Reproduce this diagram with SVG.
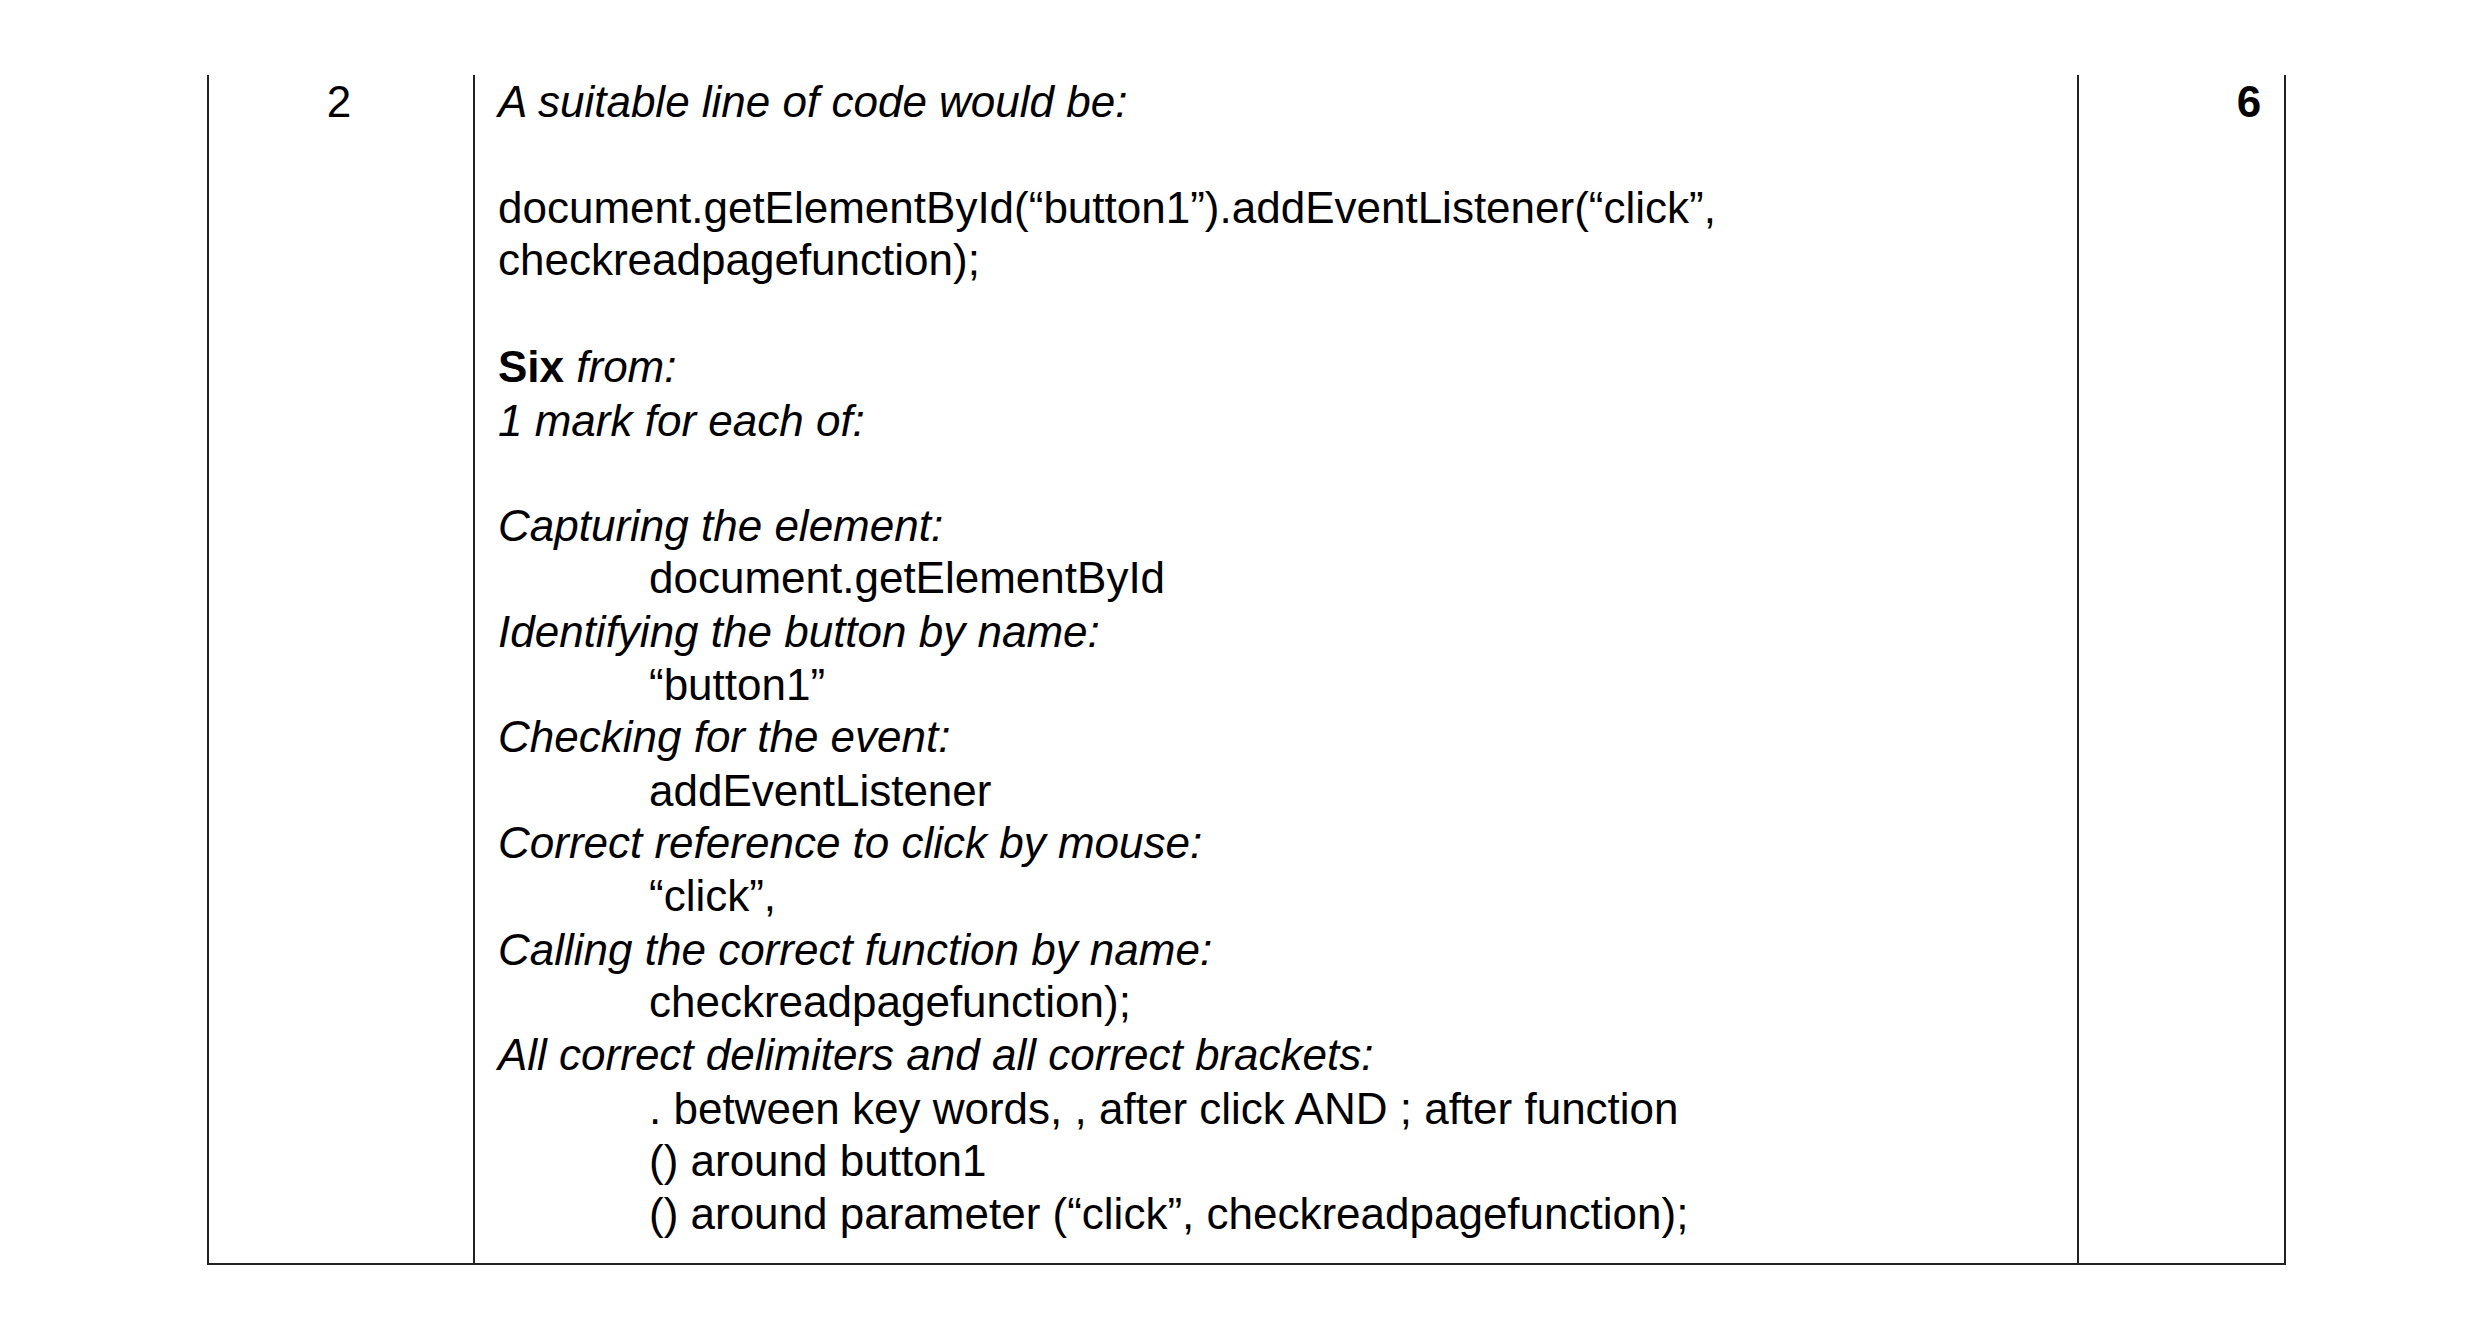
<svg xmlns="http://www.w3.org/2000/svg" width="2480" height="1335" viewBox="0 0 2480 1335">
<style>
text{font-family:"Liberation Sans",Arial,sans-serif;font-size:44px;fill:#000}
.i{font-style:italic}
.b{font-weight:bold}
line{stroke:#222;stroke-width:2}
</style>
<rect width="2480" height="1335" fill="#fff"/>
<g id="grid">
<line x1="208" y1="75" x2="208" y2="1265"/>
<line x1="474" y1="75" x2="474" y2="1265"/>
<line x1="2078" y1="75" x2="2078" y2="1265"/>
<line x1="2285" y1="75" x2="2285" y2="1265"/>
<line x1="207" y1="1264" x2="2286" y2="1264"/>
</g>
<g id="number"><text x="339" y="117" text-anchor="middle">2</text></g>
<g id="marks"><text x="2249" y="117" text-anchor="middle" class="b">6</text></g>
<g id="answer">
<text x="498" y="117" class="i">A suitable line of code would be:</text>
<text x="498" y="223">document.getElementById(“button1”).addEventListener(“click”,</text>
<text x="498" y="275">checkreadpagefunction);</text>
<text x="498" y="382"><tspan class="b">Six</tspan><tspan class="i"> from:</tspan></text>
<text x="498" y="436" class="i">1 mark for each of:</text>
<text x="498" y="541" class="i">Capturing the element:</text>
<text x="649" y="593">document.getElementById</text>
<text x="498" y="647" class="i">Identifying the button by name:</text>
<text x="649" y="700">“button1”</text>
<text x="498" y="752" class="i">Checking for the event:</text>
<text x="649" y="806">addEventListener</text>
<text x="498" y="858" class="i">Correct reference to click by mouse:</text>
<text x="649" y="911">“click”,</text>
<text x="498" y="965" class="i">Calling the correct function by name:</text>
<text x="649" y="1017">checkreadpagefunction);</text>
<text x="498" y="1070" class="i">All correct delimiters and all correct brackets:</text>
<text x="649" y="1124">. between key words, , after click AND ; after function</text>
<text x="649" y="1176">() around button1</text>
<text x="649" y="1229">() around parameter (“click”, checkreadpagefunction);</text>
</g>
</svg>
